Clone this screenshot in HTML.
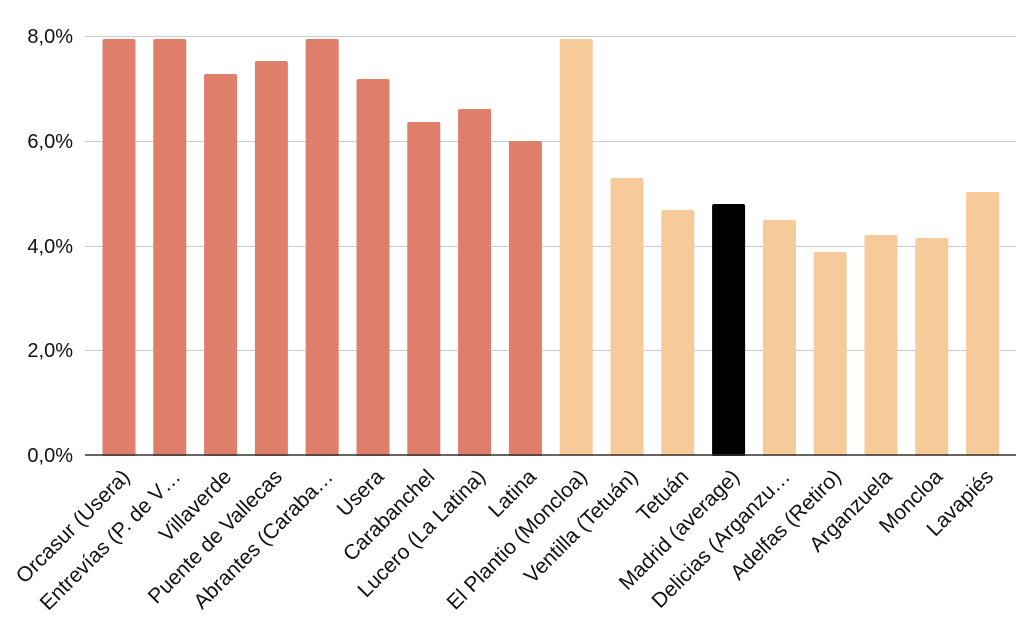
<!DOCTYPE html>
<html><head><meta charset="utf-8"><style>body{margin:0;background:#fff}svg{display:block}</style></head>
<body>
<svg width="1024" height="637" xmlns="http://www.w3.org/2000/svg" font-family="Liberation Sans, sans-serif">
<g stroke="#ccc" stroke-width="1">
<line x1="85" x2="1016" y1="36.5" y2="36.5"/>
<line x1="85" x2="1016" y1="141.5" y2="141.5"/>
<line x1="85" x2="1016" y1="246.5" y2="246.5"/>
<line x1="85" x2="1016" y1="350.5" y2="350.5"/>
</g>
<g font-size="20" fill="#111" text-anchor="end">
<text x="73" y="43">8,0%</text>
<text x="73" y="148">6,0%</text>
<text x="73" y="253">4,0%</text>
<text x="73" y="357">2,0%</text>
<text x="73" y="462">0,0%</text>
</g>
<g>
<rect x="102.5" y="39" width="33" height="420" rx="2" fill="#e07e6c"/>
<rect x="153.3" y="39" width="33" height="420" rx="2" fill="#e07e6c"/>
<rect x="204.1" y="74" width="33" height="385" rx="2" fill="#e07e6c"/>
<rect x="254.9" y="61" width="33" height="398" rx="2" fill="#e07e6c"/>
<rect x="305.7" y="39" width="33" height="420" rx="2" fill="#e07e6c"/>
<rect x="356.5" y="79" width="33" height="380" rx="2" fill="#e07e6c"/>
<rect x="407.3" y="122" width="33" height="337" rx="2" fill="#e07e6c"/>
<rect x="458.1" y="109" width="33" height="350" rx="2" fill="#e07e6c"/>
<rect x="508.9" y="141" width="33" height="318" rx="2" fill="#e07e6c"/>
<rect x="559.7" y="39" width="33" height="420" rx="2" fill="#f7ca9a"/>
<rect x="610.5" y="178" width="33" height="281" rx="2" fill="#f7ca9a"/>
<rect x="661.3" y="210" width="33" height="249" rx="2" fill="#f7ca9a"/>
<rect x="712.1" y="204" width="33" height="255" rx="2" fill="#000"/>
<rect x="762.9" y="220" width="33" height="239" rx="2" fill="#f7ca9a"/>
<rect x="813.7" y="252" width="33" height="207" rx="2" fill="#f7ca9a"/>
<rect x="864.5" y="235" width="33" height="224" rx="2" fill="#f7ca9a"/>
<rect x="915.3" y="238" width="33" height="221" rx="2" fill="#f7ca9a"/>
<rect x="966.1" y="192" width="33" height="267" rx="2" fill="#f7ca9a"/>
</g>
<rect x="90" y="456" width="934" height="8" fill="#fff"/>
<line x1="85" x2="1016" y1="455" y2="455" stroke="#333" stroke-width="1.5"/>
<g font-size="21" fill="#111" text-anchor="end">
<text x="131" y="478" transform="rotate(-45 131 478)">Orcasur (Usera)</text>
<text x="181.8" y="478" transform="rotate(-45 181.8 478)">Entrevías (P. de V…</text>
<text x="232.6" y="478" transform="rotate(-45 232.6 478)">Villaverde</text>
<text x="283.4" y="478" transform="rotate(-45 283.4 478)">Puente de Vallecas</text>
<text x="334.2" y="478" transform="rotate(-45 334.2 478)">Abrantes (Caraba…</text>
<text x="385" y="478" transform="rotate(-45 385 478)">Usera</text>
<text x="435.8" y="478" transform="rotate(-45 435.8 478)">Carabanchel</text>
<text x="486.6" y="478" transform="rotate(-45 486.6 478)">Lucero (La Latina)</text>
<text x="537.4" y="478" transform="rotate(-45 537.4 478)">Latina</text>
<text x="588.2" y="478" transform="rotate(-45 588.2 478)">El Plantio (Moncloa)</text>
<text x="639" y="478" transform="rotate(-45 639 478)">Ventilla (Tetuán)</text>
<text x="689.8" y="478" transform="rotate(-45 689.8 478)">Tetuán</text>
<text x="740.6" y="478" transform="rotate(-45 740.6 478)">Madrid (average)</text>
<text x="791.4" y="478" transform="rotate(-45 791.4 478)">Delicias (Arganzu…</text>
<text x="842.2" y="478" transform="rotate(-45 842.2 478)">Adelfas (Retiro)</text>
<text x="893" y="478" transform="rotate(-45 893 478)">Arganzuela</text>
<text x="943.8" y="478" transform="rotate(-45 943.8 478)">Moncloa</text>
<text x="994.6" y="478" transform="rotate(-45 994.6 478)">Lavapiés</text>
</g>
</svg>
</body></html>
